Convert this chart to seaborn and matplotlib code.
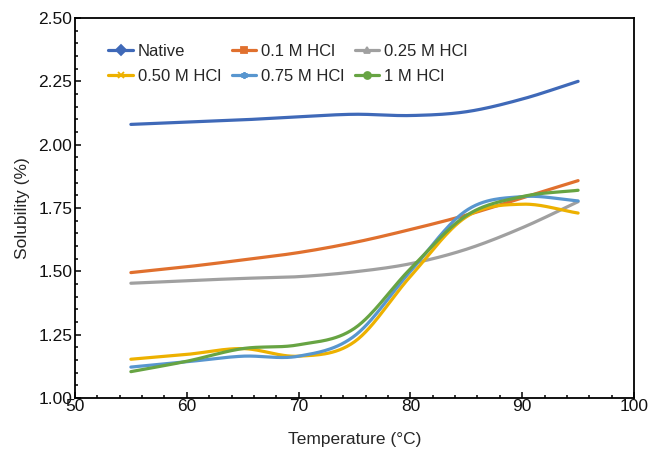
import numpy as np
import pandas as pd
import matplotlib
matplotlib.use("Agg")
import matplotlib.pyplot as plt
from matplotlib.lines import Line2D
from matplotlib.ticker import MultipleLocator, FormatStrFormatter
import seaborn as sns

# Solubility (%) measured every 5 °C
temperature = [55, 60, 65, 70, 75, 80, 85, 90, 95]
native = [2.080, 2.089, 2.098, 2.110, 2.120, 2.115, 2.130, 2.180, 2.250]
hcl_010 = [1.495, 1.518, 1.545, 1.574, 1.614, 1.665, 1.722, 1.790, 1.858]
hcl_025 = [1.453, 1.463, 1.472, 1.479, 1.498, 1.530, 1.587, 1.672, 1.775]
hcl_050 = [1.153, 1.172, 1.195, 1.165, 1.222, 1.480, 1.715, 1.765, 1.730]
hcl_075 = [1.122, 1.143, 1.165, 1.165, 1.245, 1.500, 1.740, 1.795, 1.778]
hcl_100 = [1.104, 1.145, 1.195, 1.210, 1.275, 1.510, 1.720, 1.795, 1.820]

series_names = ["Native", "0.1 M HCl", "0.25 M HCl", "0.50 M HCl", "0.75 M HCl", "1 M HCl"]
series_values = [native, hcl_010, hcl_025, hcl_050, hcl_075, hcl_100]
colors = ["#3F69B8", "#E0702E", "#A0A0A0", "#EDB100", "#5896CF", "#67A443"]
markers = ["D", "s", "^", "x", (6, 2, 0), "o"]


def smooth_curve(x, y, steps=30):
    """Catmull-Rom spline through the points (spreadsheet-style smoothed line)."""
    x = np.asarray(x, float)
    y = np.asarray(y, float)
    px = np.concatenate([[2 * x[0] - x[1]], x, [2 * x[-1] - x[-2]]])
    py = np.concatenate([[2 * y[0] - y[1]], y, [2 * y[-1] - y[-2]]])
    xs, ys = [], []
    t = np.linspace(0, 1, steps, endpoint=False)
    for i in range(1, len(px) - 2):
        for arr, out in ((px, xs), (py, ys)):
            p0, p1, p2, p3 = arr[i - 1], arr[i], arr[i + 1], arr[i + 2]
            out.extend(0.5 * ((2 * p1) + (-p0 + p2) * t
                              + (2 * p0 - 5 * p1 + 4 * p2 - p3) * t ** 2
                              + (-p0 + 3 * p1 - 3 * p2 + p3) * t ** 3))
    xs.append(x[-1])
    ys.append(y[-1])
    return np.array(xs), np.array(ys)


frames = []
for name, vals in zip(series_names, series_values):
    sx, sy = smooth_curve(temperature, vals)
    frames.append(pd.DataFrame({"Temperature": sx, "Solubility": sy, "Sample": name}))
df = pd.concat(frames, ignore_index=True)

sns.set_theme(style="ticks")
plt.rcParams["font.family"] = ["Liberation Sans", "DejaVu Sans"]

fig = plt.figure(figsize=(6.6, 4.49), dpi=100)
ax = fig.add_axes([0.1136, 0.1136, 0.847, 0.8463])

sns.lineplot(data=df, x="Temperature", y="Solubility", hue="Sample",
             hue_order=series_names, palette=colors, linewidth=2.3,
             sort=False, estimator=None, legend=False, ax=ax)

ax.set_xlim(50, 100)
ax.set_ylim(1.0, 2.5)
ax.xaxis.set_major_locator(MultipleLocator(10))
ax.xaxis.set_minor_locator(MultipleLocator(2))
ax.yaxis.set_major_locator(MultipleLocator(0.25))
ax.yaxis.set_minor_locator(MultipleLocator(0.05))
ax.yaxis.set_major_formatter(FormatStrFormatter("%.2f"))

ax.tick_params(which="both", direction="in", color="black", width=1.1,
               labelsize=12.5, labelcolor="#111111")
ax.tick_params(which="major", length=4.5)
ax.tick_params(which="minor", length=2.5)
ax.tick_params(axis="x", pad=0.5)
ax.tick_params(axis="y", pad=2)
for side in ["left", "right", "top", "bottom"]:
    ax.spines[side].set_visible(True)
    ax.spines[side].set_color("black")
    ax.spines[side].set_linewidth(1.3)

ax.set_xlabel("Temperature (°C)", fontsize=12.5, labelpad=13)
ax.set_ylabel("Solubility (%)", fontsize=12.5, labelpad=6)

handles = [Line2D([0], [0], color=c, lw=2.3, marker=m, markersize=5,
                  markeredgewidth=1.3, markerfacecolor=c, markeredgecolor=c)
           for c, m in zip(colors, markers)]
# legend reads row by row: reorder for matplotlib's column-wise fill
order = [0, 3, 1, 4, 2, 5]
ax.legend([handles[i] for i in order], [series_names[i] for i in order],
          ncol=3, loc="upper left", bbox_to_anchor=(0.048, 0.949),
          frameon=False, fontsize=12, handlelength=1.45, handletextpad=0.3,
          columnspacing=0.65, labelspacing=0.6, borderaxespad=0.0)

fig.savefig("out.png", dpi=100)
